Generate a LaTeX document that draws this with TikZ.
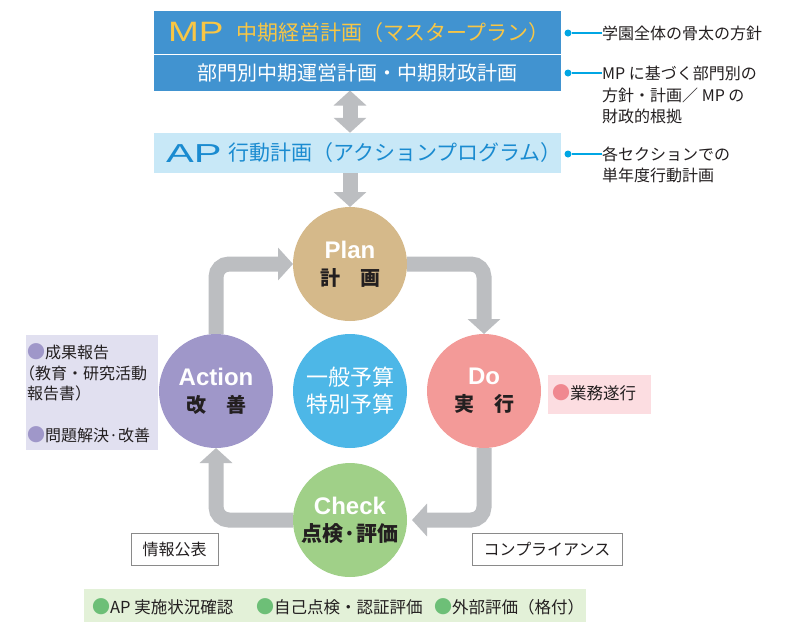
\documentclass[tikz,border=0pt]{standalone}
\usepackage{fontspec}
\setmainfont{Noto Sans CJK JP}
\newfontfamily\latinf{Liberation Sans}
\usetikzlibrary{arrows.meta,backgrounds}
\definecolor{mpblue}{HTML}{4193D0}
\definecolor{mpyellow}{HTML}{F8C645}
\definecolor{apblue}{HTML}{C8E8F7}
\definecolor{aptext}{HTML}{1A8BD0}
\definecolor{arrowgray}{HTML}{BCBEC1}
\definecolor{plancol}{HTML}{D5B98A}
\definecolor{docol}{HTML}{F39A98}
\definecolor{actcol}{HTML}{9F97C9}
\definecolor{chkcol}{HTML}{A0D088}
\definecolor{budcol}{HTML}{4DB7E7}
\definecolor{lavbox}{HTML}{E1E0F0}
\definecolor{pinkbox}{HTML}{FCDDE1}
\definecolor{greenbox}{HTML}{E3F1D8}
\definecolor{dotcyan}{HTML}{00A6E4}
\definecolor{dotpurple}{HTML}{9F97C9}
\definecolor{dotpink}{HTML}{F08890}
\definecolor{dotgreen}{HTML}{6DBF77}
\definecolor{txt}{HTML}{231F20}
\definecolor{boxgray}{HTML}{8A8A8A}
\newcommand{\bul}[1]{{\fontsize{18}{16}\selectfont\color{#1}\raisebox{-0.6pt}{●}}}
\begin{document}
\begin{tikzpicture}[x=1pt,y=-1pt,
  box/.style={rectangle, inner sep=0pt, outer sep=0pt},
  circ/.style={circle, minimum size=114pt, inner sep=0pt, outer sep=0pt, align=center, text=txt, font=\fontsize{20}{27}\selectfont},
  garrow/.style={draw=arrowgray, line width=15pt, rounded corners=13pt, -{Triangle[width=32pt,length=15pt]}},
  gdarrow/.style={draw=arrowgray, line width=15pt, {Triangle[width=32pt,length=15pt]}-{Triangle[width=32pt,length=15pt]}},
  note/.style={anchor=west, inner sep=0pt, text=txt, font=\fontsize{16}{16}\selectfont},
  cdot/.style={circle, fill=dotcyan, minimum size=7pt, inner sep=0pt},
  cline/.style={draw=dotcyan, line width=1.1pt},
  framebox/.style={box, draw=boxgray, line width=0.8pt, fill=white, text=txt, font=\fontsize{16}{16}\selectfont}
]
\useasboundingbox (0,0) rectangle (792,622);

% --- MP boxes ---
\node[box, fill=mpblue, minimum width=407pt, minimum height=42.5pt] (mp) at (357.5,32.25) {};
\node[box, fill=mpblue, minimum width=407pt, minimum height=35.5pt] (mpsub) at (357.5,72.75) {};
\node[anchor=base west, inner sep=0pt, text=mpyellow, font=\latinf\fontsize{28}{28}\selectfont] (mptag) at (168,41) {\scalebox{1.32}[1]{MP}};
\node[anchor=base west, inner sep=0pt, text=mpyellow, font=\fontsize{21}{21}\selectfont] (mptitle) at (236,40) {中期経営計画（マスタープラン）};
\node[inner sep=0pt, text=white, font=\fontsize{20}{20}\selectfont] (mpsubtext) at (mpsub.center) {部門別中期運営計画・中期財政計画};

% --- AP box ---
\node[box, fill=apblue, minimum width=407pt, minimum height=40.5pt] (ap) at (357.5,153) {};
\node[anchor=base west, inner sep=0pt, text=aptext, font=\latinf\fontsize{26}{26}\selectfont] (aptag) at (166,162) {\scalebox{1.6}[1]{AP}};
\node[anchor=base west, inner sep=0pt, text=aptext, font=\fontsize{21}{21}\selectfont] (aptitle) at (228,160) {行動計画（アクションプログラム）};

% --- right annotations ---
\node[cdot] (d1) at (568,33) {};
\node[note] (n1) at (602,33) {学園全体の骨太の方針};
\node[cdot] (d2) at (568,73) {};
\node[note] (n2a) at (602,73) {MP に基づく部門別の};
\node[note] (n2b) at (602,95) {方針・計画／ MP の};
\node[note] (n2c) at (602,116) {財政的根拠};
\node[cdot] (d3) at (568,154) {};
\node[note] (n3a) at (602,154) {各セクションでの};
\node[note] (n3b) at (602,175) {単年度行動計画};
\draw[cline] (d1) -- (n1.west);
\draw[cline] (d2) -- (n2a.west);
\draw[cline] (d3) -- (n3a.west);

% --- circles ---
\node[circ, fill=plancol] (plan) at (350,264)
  {{\latinf\bfseries\fontsize{24}{27}\selectfont\color{white}Plan}\\{\bfseries 計　画}};
\node[circ, fill=docol] (do) at (484,391)
  {{\latinf\bfseries\fontsize{24}{27}\selectfont\color{white}Do}\\{\bfseries 実　行}};
\node[circ, fill=actcol] (action) at (216,391)
  {{\latinf\bfseries\fontsize{24}{27}\selectfont\color{white}Action}\\{\bfseries 改　善}};
\node[circ, fill=chkcol] (check) at (350,520)
  {{\latinf\bfseries\fontsize{24}{27}\selectfont\color{white}Check}\\{\bfseries\fontsize{21}{27}\selectfont 点検·評価}};
\node[circ, fill=budcol, text=white, font=\fontsize{22}{27}\selectfont] (budget) at (350,391)
  {一般予算\\特別予算};

% --- left lavender box ---
\node[box, fill=lavbox, minimum width=132pt, minimum height=115pt] (lav) at (92,392.5) {};
\node[note] (l1) at (27,352) {\bul{dotpurple}成果報告};
\node[note] (l2) at (19,373) {（教育・研究活動};
\node[note] (l3) at (27,393) {報告書）};
\node[note] (l4) at (27,435) {\bul{dotpurple}問題解決·改善};

% --- pink box ---
\node[box, fill=pinkbox, minimum width=103pt, minimum height=39pt] (pk) at (599.5,394.5) {};
\node[note, font=\fontsize{16.5}{16.5}\selectfont] (pktext) at (552,393) {\bul{dotpink}業務遂行};

% --- framed boxes ---
\node[framebox, minimum width=87pt, minimum height=32pt] (info) at (174.5,549) {情報公表};
\node[framebox, minimum width=150pt, minimum height=32pt] (comp) at (547,549) {コンプライアンス};

% --- bottom green box ---
\node[box, fill=greenbox, minimum width=502pt, minimum height=33pt] (gb) at (335,605.5) {};
\node[note, font=\fontsize{16.5}{16.5}\selectfont] (g1) at (92,607) {\bul{dotgreen}AP 実施状況確認};
\node[note, font=\fontsize{16.5}{16.5}\selectfont] (g2) at (256,607) {\bul{dotgreen}自己点検・認証評価};
\node[note, font=\fontsize{16.5}{16.5}\selectfont] (g3) at (434,607) {\bul{dotgreen}外部評価（格付）};

% --- arrows ---
\begin{scope}[on background layer]
\fill[white] (0,0) rectangle (792,622);
\draw[gdarrow] (plan.north |- mpsub.south) -- (plan.north |- ap.north);
\draw[garrow] (plan.north |- ap.south) -- (plan.north);
\draw[garrow] (plan.east) -| (do.north);
\draw[garrow, shorten >=5pt] (do.south) |- (check.east);
\draw[garrow] (check.west) -| (action.south);
\draw[garrow] (action.north) |- (plan.west);
\end{scope}
\end{tikzpicture}
\end{document}
